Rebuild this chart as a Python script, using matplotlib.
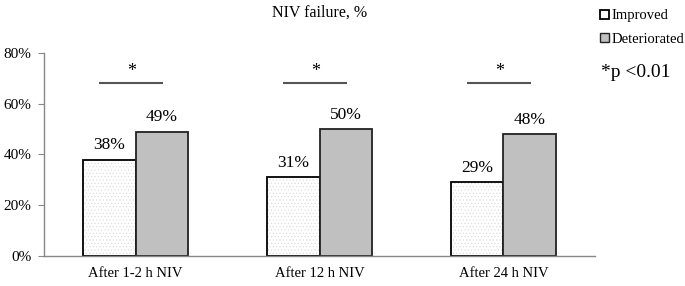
import matplotlib
matplotlib.use("Agg")
import matplotlib.pyplot as plt
from matplotlib.patches import Patch
import numpy as np

plt.rcParams['font.family'] = ['Liberation Serif', 'DejaVu Serif']
plt.rcParams['hatch.linewidth'] = 0.4

# data
timepoints = ["After 1-2 h NIV", "After 12 h NIV", "After 24 h NIV"]
improved = [38, 31, 29]
deteriorated = [49, 50, 48]
sig_level = 68  # height of the significance bar, %
yticks = [0, 20, 40, 60, 80]

fig = plt.figure(figsize=(6.85, 2.86), dpi=100)
ax = fig.add_axes([0.064, 0.105, 0.805, 0.71])

x = np.arange(len(timepoints))
w = 0.285

# dotted fill for the improved bars, then the black outline on top
ax.bar(x - w / 2, improved, w, color='white', edgecolor='#d8d8d8',
       linewidth=0, hatch='.....')
ax.bar(x - w / 2, improved, w, fill=False, edgecolor='black', linewidth=1.3)
ax.bar(x + w / 2, deteriorated, w, color='#c0c0c0', edgecolor='#222222',
       linewidth=1.3)

for xi, v in zip(x - w / 2, improved):
    ax.text(xi, v + 2.5, f"{v}%", ha='center', va='bottom', fontsize=12.5)
for xi, v in zip(x + w / 2, deteriorated):
    ax.text(xi, v + 2.5, f"{v}%", ha='center', va='bottom', fontsize=12.5)

# significance bars
for xi in x:
    ax.plot([xi - 0.2, xi + 0.15], [sig_level, sig_level], color='#555555', lw=1.5,
            solid_capstyle='butt')
    ax.text(xi - 0.02, sig_level + 1.5, "*", ha='center', va='bottom', fontsize=13)

ax.set_xlim(-0.5, 2.5)
ax.set_ylim(0, 80)
ax.set_yticks(yticks)
ax.set_yticklabels([f"{t}%" for t in yticks], fontsize=11)
ax.set_xticks(x)
ax.set_xticklabels(timepoints, fontsize=10.5)
ax.tick_params(axis='x', length=0, pad=8)
ax.tick_params(axis='y', length=4, color='#888888', pad=5)
for s in ['top', 'right']:
    ax.spines[s].set_visible(False)
for s in ['left', 'bottom']:
    ax.spines[s].set_color('#888888')
    ax.spines[s].set_linewidth(1.0)

fig.text(0.467, 0.955, "NIV failure, %", ha='center', va='center', fontsize=11.5)

handles = [Patch(facecolor='white', edgecolor='black', linewidth=1.3, label='Improved'),
           Patch(facecolor='#c0c0c0', edgecolor='#222222', linewidth=1.0, label='Deteriorated')]
fig.legend(handles=handles, loc='upper left', bbox_to_anchor=(0.862, 1.0),
           frameon=False, fontsize=10.5, handlelength=0.6, handleheight=0.6,
           handletextpad=0.2, labelspacing=0.7, borderaxespad=0.25)
fig.text(0.878, 0.745, "*p <0.01", ha='left', va='center', fontsize=14)

fig.savefig("out.png", dpi=100)
